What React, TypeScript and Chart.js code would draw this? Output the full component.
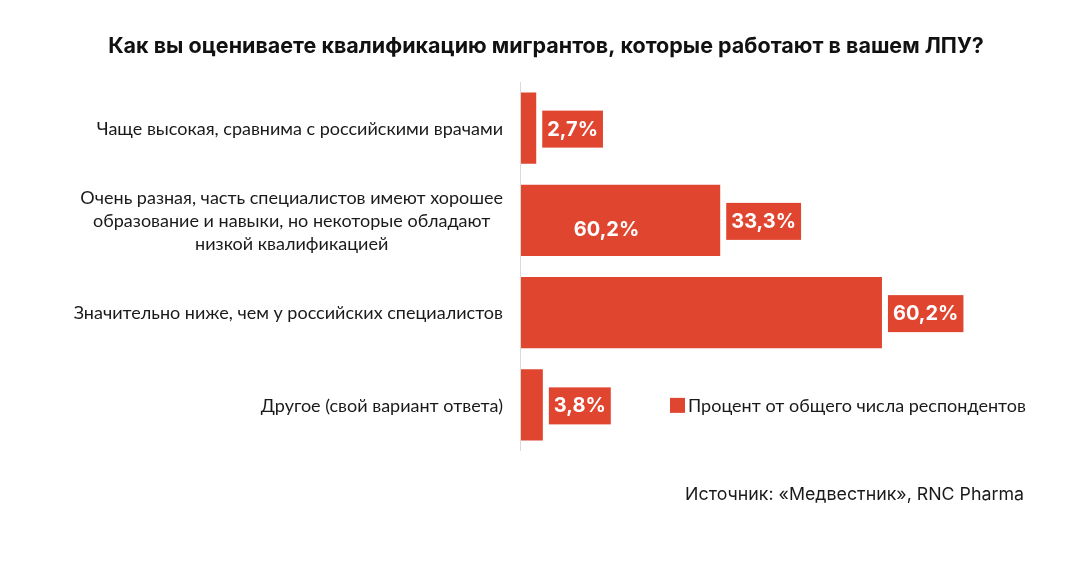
import React, { useEffect, useRef } from "react";
import { Chart, registerables } from "chart.js";

Chart.register(...registerables);

const title = "Как вы оцениваете квалификацию мигрантов, которые работают в вашем ЛПУ?";
const categories: string[][] = [
  ["Чаще высокая, сравнима с российскими врачами"],
  ["Очень разная, часть специалистов имеют хорошее", "образование и навыки, но некоторые обладают", "низкой квалификацией"],
  ["Значительно ниже, чем у российских специалистов"],
  ["Другое (свой вариант ответа)"],
];
const values: number[] = [2.7, 33.3, 60.2, 3.8];
const valueLabels: string[] = ["2,7%", "33,3%", "60,2%", "3,8%"];
const innerLabels: (string | null)[] = [null, "60,2%", null, null];
const seriesName = "Процент от общего числа респондентов";
const source = "Источник: «Медвестник», RNC Pharma";

const RED = "#E04530";
const LABEL_FONT = '"Lato", "Noto Sans", sans-serif';

const overlay = {
  id: "overlay",
  afterDatasetsDraw(chart: any) {
    const ctx = chart.ctx;
    const area = chart.chartArea;
    const meta = chart.getDatasetMeta(0);
    const yScale = chart.scales.y;
    ctx.save();

    // axis line
    ctx.strokeStyle = "#d9d9d9";
    ctx.lineWidth = 1;
    ctx.beginPath();
    ctx.moveTo(Math.round(area.left) + 0.5, area.top);
    ctx.lineTo(Math.round(area.left) + 0.5, area.bottom);
    ctx.stroke();

    // value label boxes
    ctx.font = 'bold 20px "Inter", sans-serif';
    ctx.textBaseline = "middle";
    meta.data.forEach((bar: any, i: number) => {
      const txt = valueLabels[i];
      const w = ctx.measureText(txt).width;
      const bx = bar.x + 6;
      const bh = 37;
      const bw = w + 10;
      const by = bar.y - bh / 2 + 1;
      ctx.fillStyle = RED;
      ctx.fillRect(bx, by, bw, bh);
      ctx.fillStyle = "#ffffff";
      ctx.textAlign = "center";
      ctx.fillText(txt, bx + bw / 2, bar.y + 1.5);
      const inner = innerLabels[i];
      if (inner) {
        ctx.fillText(inner, bar.base + (bar.x - bar.base) * 0.432, bar.y + 10);
      }
    });

    // category labels
    ctx.fillStyle = "#1a1a1a";
    ctx.font = `18px ${LABEL_FONT}`;
    const rightX = area.left - 17;
    categories.forEach((lines, i) => {
      const cy = yScale.getPixelForValue(i);
      const widths = lines.map((l) => ctx.measureText(l).width);
      const maxW = Math.max(...widths);
      const lh = 23;
      lines.forEach((l, j) => {
        const y = cy + (j - (lines.length - 1) / 2) * lh + 1;
        ctx.textAlign = "center";
        ctx.fillText(l, rightX - maxW / 2, y);
      });
    });

    // legend
    const lgY = yScale.getPixelForValue(3) + 1;
    const lgX = 670;
    ctx.fillStyle = RED;
    ctx.fillRect(lgX, lgY - 8, 15, 15);
    ctx.fillStyle = "#1a1a1a";
    ctx.textAlign = "left";
    ctx.font = `18px ${LABEL_FONT}`;
    ctx.fillText(seriesName, lgX + 18, lgY);

    // title
    ctx.font = 'bold 21.5px "Inter", sans-serif';
    ctx.textAlign = "center";
    ctx.fillStyle = "#111111";
    ctx.fillText(title, 546, 47);

    // source
    ctx.font = '17.8px "Inter", sans-serif';
    ctx.textAlign = "right";
    ctx.fillStyle = "#1a1a1a";
    ctx.fillText(source, 1024, 495);

    ctx.restore();
  },
};

export default function App() {
  const ref = useRef<HTMLCanvasElement>(null);
  useEffect(() => {
    if (!ref.current) return;
    const chart = new Chart(ref.current, {
      type: "bar",
      data: {
        labels: categories.map((c) => c.join(" ")),
        datasets: [
          {
            label: seriesName,
            data: values,
            backgroundColor: RED,
            barPercentage: 0.772,
            categoryPercentage: 1,
          },
        ],
      },
      options: {
        indexAxis: "y",
        animation: false,
        responsive: true,
        maintainAspectRatio: false,
        layout: { padding: { left: 520, right: 77, top: 82, bottom: 127 } },
        plugins: {
          legend: { display: false },
          title: { display: false },
          tooltip: { enabled: false },
        },
        scales: {
          x: { display: false, min: 0, max: 80 },
          y: { display: false },
        },
      },
      plugins: [overlay],
    });
    return () => chart.destroy();
  }, []);
  return (
    <div style={{ position: "absolute", left: 0, top: 0, width: 1078, height: 578, background: "#fff" }}>
      <canvas ref={ref} />
    </div>
  );
}
